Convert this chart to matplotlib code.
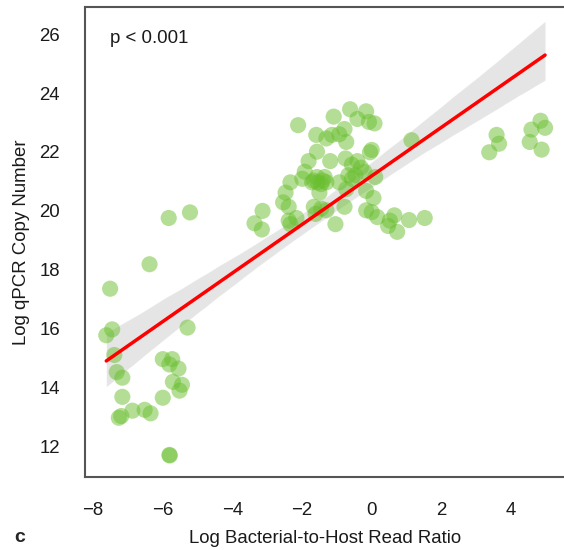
import numpy as np
import matplotlib
matplotlib.use("Agg")
import matplotlib.pyplot as plt
import seaborn as sns

# Data (log bacterial/host ratio vs log qPCR copies)
left_x = [-7.50, -7.61, -7.44, -7.38, -7.31, -7.15, -7.15, -7.25, -7.18, -6.86,
          -6.51, -6.34, -6.37, -5.82, -5.21, -5.28, -5.99, -5.72, -5.80, -5.54,
          -5.70, -5.44, -5.51, -5.99, -5.80, -5.79]
left_y = [17.36, 15.78, 15.98, 15.11, 14.53, 14.34, 13.69, 12.98, 13.04, 13.22,
          13.25, 13.13, 18.19, 19.76, 19.95, 16.04, 14.97, 14.97, 14.79, 14.65,
          14.20, 14.10, 13.90, 13.66, 11.72, 11.70]

mid_x = [-2.11, -1.59, -1.09, -0.62, -0.16, -0.41, -0.08, 0.08, -0.78, -0.93,
         -1.14, -1.30, -0.73, -1.57, -1.19, -1.81, -0.75, 0.00, -0.05, -0.41,
         -0.31, -0.57, -0.21, -1.92, -1.99, -2.33, -2.47, -2.54, -2.38, -3.13,
         -3.36, -3.15, -2.38, -2.16, -2.33,
         -1.66, -1.55, -1.40, -1.30, -1.45, -1.57, -1.35, -1.71,
         -1.50, -1.66, -1.61, -1.45, -1.30, -1.04, -0.78, -0.93, -0.73, -0.67,
         -0.57, -0.47, -0.16, 0.05, 0.10, -0.16, 0.00, 0.16, 0.47, 0.52,
         0.65, 0.73, 1.07, 1.52, 1.14]
mid_y = [22.91, 22.58, 23.20, 23.45, 23.38, 23.12, 23.02, 22.97, 22.78, 22.60,
         22.58, 22.46, 22.34, 22.01, 21.69, 21.69, 21.78, 22.07, 21.99, 21.69,
         21.47, 21.57, 21.33, 21.33, 21.09, 20.97, 20.62, 20.29, 20.14, 20.00,
         19.58, 19.37, 19.67, 19.76, 19.55,
         21.03, 20.97, 21.03, 20.97, 20.91, 21.15, 21.15, 20.97,
         20.62, 20.14, 19.90, 20.08, 20.02, 19.55, 20.14, 20.97, 20.74, 21.21,
         21.09, 21.21, 20.68, 20.44, 21.15, 20.02, 19.96, 19.79, 19.49, 19.67,
         19.85, 19.29, 19.69, 19.76, 22.40]

right_x = [3.37, 3.58, 3.65, 4.53, 4.58, 4.84, 4.97, 4.87]
right_y = [21.99, 22.58, 22.28, 22.34, 22.76, 23.06, 22.82, 22.08]

x = np.array(left_x + mid_x + right_x)
y = np.array(left_y + mid_y + right_y)

sns.set_style("white")
plt.rcParams['font.family'] = ['Liberation Sans', 'DejaVu Sans']
fs = 13.4

fig = plt.figure(figsize=(5.64, 5.5), dpi=100)
ax = fig.add_axes([85 / 564, 1 - 477 / 550, 481 / 564, 470 / 550])

ax.scatter(x, y, s=135, color='#6abf2f', alpha=0.5, edgecolors='none', zorder=2)
# grey confidence band (line hidden), then the red fit line on top
sns.regplot(x=x, y=y, ax=ax, scatter=False, color='#555555', seed=0,
            line_kws={'lw': 0})
sns.regplot(x=x, y=y, ax=ax, scatter=False, ci=None,
            line_kws={'color': 'red', 'lw': 2.5, 'zorder': 3})

ax.set_xlim(-8.22, 5.57)
ax.set_ylim(10.97, 26.92)
ax.set_xticks([-8, -6, -4, -2, 0, 2, 4])
ax.set_yticks([12, 14, 16, 18, 20, 22, 24, 26])
ax.tick_params(length=0, pad=18, labelsize=fs, colors='#1a1a1a')
for sp in ax.spines.values():
    sp.set_color('#555555')
    sp.set_linewidth(1.5)

ax.set_xlabel("Log Bacterial-to-Host Read Ratio", fontsize=fs, labelpad=8,
              color='#1a1a1a')
ax.set_ylabel("Log qPCR Copy Number", fontsize=fs, labelpad=7, color='#1a1a1a')
ax.text(0.052, 0.934, "p < 0.001", transform=ax.transAxes, fontsize=fs,
        va='center', ha='left', color='#1a1a1a')
fig.text(20 / 564, 1 - 537 / 550, "c", fontsize=14, fontweight='bold',
         ha='center', va='center')

fig.savefig("out.png", dpi=100)
